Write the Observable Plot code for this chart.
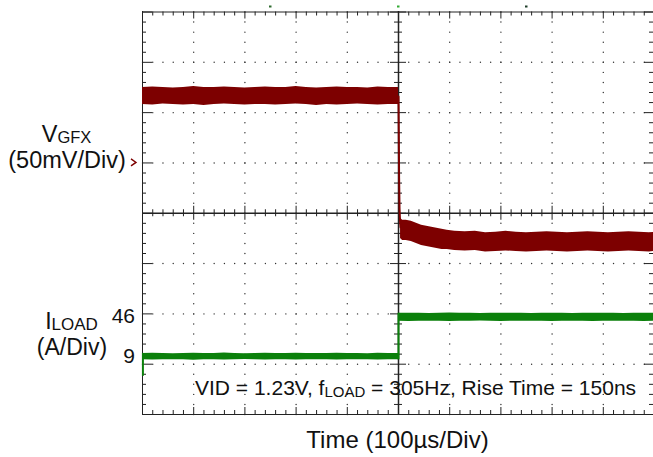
<!DOCTYPE html>
<html><head><meta charset="utf-8">
<script src="https://cdn.jsdelivr.net/npm/d3@7"></script>
<script src="https://cdn.jsdelivr.net/npm/@observablehq/plot@0.6"></script>
<style>body{margin:0;background:#fff}</style>
</head><body><div id="chart"></div>
<script>
// ---- Data (time in µs, 100 µs/div; VGFX in mV relative to its marker; ILOAD in A) ----
const vPreT  = [0,20,40,60,80,100,120,140,160,180,200,220,240,260,280,300,320,340,360,380,400,420,440,460,480,500];
const vPreHi = [75,75.5,75,74.5,75,76,75,75,75.5,75,74.5,75,75.5,75,75,76,75,74.5,75,75.5,75,75,74.5,75.5,75,75];
const vPreLo = [58,57.5,58.5,58,57.5,58,57,58,58.5,58,57.5,58,58,57.5,58,58.5,58,57,58,57.5,58,58.5,58,57.5,58,58];

const vEdgeT  = [500,500.6,501.2,502,503,504];
const vEdgeMv = [66,30,-15,-45,-58,-64];

const vPostT  = [504,508,515,525,535,545,555,565,575,585,595,610,630,650,670,690,710,730,750,770,790,810,830,850,870,890,910,930,950,970,990,1000];
const vPostHi = [-55,-57,-57,-58,-60,-62,-63,-64,-65,-66,-67,-68,-68.5,-68,-69.5,-69,-68,-69,-69.5,-69,-68.5,-69,-69.5,-69,-68.5,-69,-69.5,-69,-68.5,-69,-69.5,-69];
const vPostLo = [-75,-77,-77,-78,-80,-82,-83,-84,-85,-86,-86,-87,-87.5,-87,-88.5,-88,-87.5,-88,-88.5,-88,-87.5,-88,-88.5,-88,-87.5,-88,-88.5,-88,-87.5,-88,-88.5,-88];

const iPreT  = [0,20,40,60,80,100,120,140,160,180,200,220,240,260,280,300,320,340,360,380,400,420,440,460,480,500];
const iPreHi = [12,12.3,12,11.8,12,12.2,12,12,12.4,12,11.8,12,12.2,12,12,12.3,12,11.9,12,12.2,12,12,11.8,12.2,12,12];
const iPreLo = [6,5.8,6,6.1,6,5.7,6,6,5.9,6,6.2,6,5.8,6,6,5.9,6,6.1,6,5.8,6,6,6.1,5.9,6,6];
const iPostT  = [500,520,540,560,580,600,620,640,660,680,700,720,740,760,780,800,820,840,860,880,900,920,940,960,980,1000];
const iPostHi = [49.8,50,49.8,49.6,49.8,50.1,49.8,49.8,49.6,49.8,50,49.8,49.8,49.6,49.8,50,49.8,49.7,49.8,50,49.8,49.8,49.6,49.8,50,49.8];
const iPostLo = [42.3,42.1,42.3,42.4,42.3,42,42.3,42.3,42.5,42.3,42.1,42.3,42.3,42.4,42.3,42.1,42.3,42.4,42.3,42.1,42.3,42.3,42.4,42.3,42.1,42.3];
const iStartSpike = [12, -9.5];
const iLevels = [46, 9];          // tick labels of ILOAD

// ---- channel settings ----
const V_MV_PER_DIV = 50, V_REF_DIV = 1;
const I_A_PER_DIV = 47.4, I_REF_DIV = -3.04;
const vDiv = mv => V_REF_DIV + mv / V_MV_PER_DIV;
const iDiv = a => I_REF_DIV + a / I_A_PER_DIV;

const RED = "#7d0000", GREEN = "#0b800b", INK = "#222";
const FONT = "'Liberation Sans', Arial, Helvetica, sans-serif";

const zip = (t, hi, lo) => t.map((x, i) => ({t: x, hi: hi[i], lo: lo[i]}));
const vPre = zip(vPreT, vPreHi, vPreLo), vPost = zip(vPostT, vPostHi, vPostLo);
const iPre = zip(iPreT, iPreHi, iPreLo), iPost = zip(iPostT, iPostHi, iPostLo);
const vEdge = vEdgeT.map((t, i) => ({t, mv: vEdgeMv[i]}));

// ---- graticule ----
const DX = 1000 / 512, DY = 8 / 402.5;   // data units per pixel
const minorX = d3.range(0, 51).map(i => i * 20);
const minorY = d3.range(0, 41).map(i => -4 + i * 0.2);
const isMajX = v => Math.abs(v / 100 - Math.round(v / 100)) < 1e-6;
const isMajY = v => Math.abs(v - Math.round(v)) < 1e-6;
const dots = [];
[100,200,300,400,600,700,800,900].forEach(x => minorY.forEach(y => dots.push({x, y})));
[-3,-2,-1,1,2,3].forEach(y => minorX.forEach(x => dots.push({x, y})));

const plot = Plot.plot({
  width: 653, height: 457,
  marginLeft: 142, marginRight: 0, marginTop: 11, marginBottom: 43,
  x: {domain: [0, 1000], range: [142, 654], axis: null},
  y: {domain: [-4, 4], range: [414, 11.5], axis: null},
  style: {fontFamily: FONT, background: "white", overflow: "visible"},
  marks: [
    Plot.dot(dots, {x: "x", y: "y", r: 0.7, fill: "#333", stroke: null}),
    // border ticks
    Plot.ruleX(minorX, {x: d => d, y1: 4, y2: d => 4 - (isMajX(d) ? 7 : 4) * DY, stroke: INK}),
    Plot.ruleX(minorX, {x: d => d, y1: -4, y2: d => -4 + (isMajX(d) ? 7 : 4) * DY, stroke: INK}),
    Plot.ruleY(minorY, {y: d => d, x1: 0, x2: d => (isMajY(d) ? 10 : 4) * DX, stroke: INK}),
    Plot.ruleY(minorY, {y: d => d, x1: 1000, x2: d => 1000 - (isMajY(d) ? 10 : 5) * DX, stroke: INK}),
    // centre axis ticks
    Plot.ruleX(minorX, {x: d => d, y1: d => -(isMajX(d) ? 7 : 3.5) * DY, y2: d => (isMajX(d) ? 7 : 3.5) * DY, stroke: INK}),
    Plot.ruleY(minorY, {y: d => d, x1: d => 500 - (isMajY(d) ? 8 : 4) * DX, x2: d => 500 + (isMajY(d) ? 8 : 4) * DX, stroke: INK}),
    // frame and centre lines
    Plot.ruleX([0, 1000], {stroke: INK}),
    Plot.ruleY([-4, 4], {stroke: INK}),
    Plot.ruleX([500], {stroke: INK, strokeWidth: 1.5}),
    Plot.ruleY([0], {stroke: INK, strokeWidth: 1.5}),
    // VGFX trace
    Plot.areaY(vPre, {x: "t", y1: d => vDiv(d.lo), y2: d => vDiv(d.hi), curve: "linear", fill: RED}),
    Plot.areaY(vPost, {x: "t", y1: d => vDiv(d.lo), y2: d => vDiv(d.hi), curve: "linear", fill: RED}),
    Plot.line(vEdge, {x: "t", y: d => vDiv(d.mv), stroke: RED, strokeWidth: 2}),
    // ILOAD trace
    Plot.areaY(iPre, {x: "t", y1: d => iDiv(d.lo), y2: d => iDiv(d.hi), curve: "linear", fill: GREEN}),
    Plot.areaY(iPost, {x: "t", y1: d => iDiv(d.lo), y2: d => iDiv(d.hi), curve: "linear", fill: GREEN}),
    Plot.ruleX([500], {y1: iDiv(iPreLo[iPreLo.length - 1]), y2: iDiv(iPostHi[0]), stroke: GREEN, strokeWidth: 2}),
    Plot.ruleX([0.8], {y1: iDiv(iStartSpike[0]), y2: iDiv(iStartSpike[1]), stroke: GREEN, strokeWidth: 2})
  ]
});
document.getElementById("chart").appendChild(plot);

// ---- labels ----
const xs = plot.scale("x"), ys = plot.scale("y");
const svg = d3.select(plot);
const g = svg.append("g").attr("font-family", FONT).attr("fill", "#111").style("white-space", "pre");
function addText(x, y, parts, anchor) {
  const t = g.append("text").attr("x", x).attr("y", y).attr("text-anchor", anchor);
  parts.forEach(([s, size, dy]) => t.append("tspan").attr("font-size", size).attr("dy", dy || 0).text(s));
  return t;
}
addText(66.5, 142, [["V", 23.5], ["GFX", 16.5, 1]], "middle");
addText(67, 167.5, [["(50mV/Div)", 23.5]], "middle");
addText(71.5, 329, [["I", 23], ["LOAD", 17, 0.5]], "middle");
addText(72, 355, [["(A/Div)", 23]], "middle");
iLevels.forEach(a => addText(135, ys.apply(iDiv(a)) + 6.5, [[String(a), 21]], "end"));
addText(397.5, 448, [["Time (100µs/Div)", 24]], "middle");
addText(195, 395, [["VID = 1.23V, f", 21], ["LOAD", 15, 2], [" = 305Hz, Rise Time = 150ns", 21, -2]], "start");

// VGFX reference marker
const my = ys.apply(V_REF_DIV);
svg.append("path").attr("d", `M131,${my - 3.5}L136,${my}L131,${my + 3.5}`)
  .attr("fill", "none").attr("stroke", RED).attr("stroke-width", 1.4);

// trigger / cursor markers above the graticule
[[xs.apply(250), "#2e6b2e"], [xs.apply(500), "#33aa33"], [xs.apply(750), "#1f3f2a"]].forEach(([x, c]) =>
  svg.append("rect").attr("x", x - 1).attr("y", 5.5).attr("width", 2.5).attr("height", 2).attr("fill", c));
</script>
</body></html>
